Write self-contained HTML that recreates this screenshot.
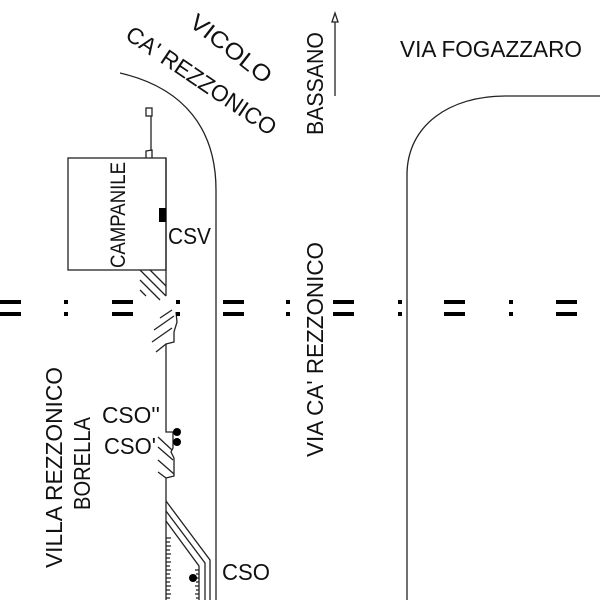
<!DOCTYPE html>
<html><head><meta charset="utf-8"><style>html,body{margin:0;padding:0;background:#fff}svg{display:block}</style></head>
<body>
<svg width="600" height="600" viewBox="0 0 600 600" xmlns="http://www.w3.org/2000/svg" font-family="Liberation Sans, sans-serif" fill="#111">
<g fill="none" stroke="#222" stroke-width="1.3">
<path d="M120,73 C185,88 216,130 216,190 L216,600"/>
<path d="M407,600 L407,175 C407,125 450,96 505,96 L600,96"/>
<rect x="68" y="158" width="98" height="112"/>
<rect x="146" y="108" width="6" height="8"/>
<line x1="151" y1="116" x2="151" y2="150"/>
<path d="M146,158 L146,151 L152,150 L152,158"/>
<path d="M166,158 L166,296"/>
<path d="M176,312 L177,322 L174,332 L174,342 L166,344 L166,432 L173,432 L173,448 L171,452 L174,458 L174,476 L166,478 L166,600"/>
<path d="M140,270 L166,296 M150,270 L166,286 M140,280 L160,300 M140,290 L146,296"/>
<path d="M160,318 L172,310 M154,330 L174,316 M152,342 L172,328 M156,352 L166,344"/>
<path d="M158,437 L172,450 M158,447 L173,460 M158,460 L174,474 M158,472 L166,478"/>
<path d="M166,501 L210,560 L210,600"/>
<path d="M166,511 L205,563 L205,600"/>
<path d="M166,521 L199,566 L199,600"/>
<path d="M166,538 h5 M166,542 h4 M166,546 h5 M166,550 h4 M166,554 h5 M166,558 h4 M166,562 h5 M166,566 h4 M166,570 h5 M166,574 h4 M166,578 h5 M166,582 h4 M166,586 h5 M166,590 h4 M166,594 h5 M166,598 h4"/>
<path d="M199,570 h-4 M199,574 h-3 M199,578 h-4 M199,582 h-3 M199,586 h-4 M199,590 h-3 M199,594 h-4 M199,598 h-3"/>
<line x1="335" y1="96" x2="335" y2="22"/>
<path d="M332,22 L335,13 L338,22 Z"/>
</g>
<rect x="159" y="208" width="7" height="14" fill="#000"/>
<circle cx="177" cy="432" r="4" fill="#000"/>
<circle cx="177" cy="442" r="4" fill="#000"/>
<circle cx="193" cy="578" r="4" fill="#000"/>
<g fill="#000">
<rect x="0" y="300" width="21" height="4"/><rect x="0" y="312" width="21" height="4"/>
<rect x="112" y="300" width="21" height="4"/><rect x="112" y="312" width="21" height="4"/>
<rect x="223" y="300" width="21" height="4"/><rect x="223" y="312" width="21" height="4"/>
<rect x="333" y="300" width="21" height="4"/><rect x="333" y="312" width="21" height="4"/>
<rect x="444" y="300" width="21" height="4"/><rect x="444" y="312" width="21" height="4"/>
<rect x="556" y="300" width="21" height="4"/><rect x="556" y="312" width="21" height="4"/>
<rect x="64" y="300" width="4" height="4"/><rect x="64" y="312" width="4" height="4"/>
<rect x="176" y="300" width="4" height="4"/><rect x="176" y="312" width="4" height="4"/>
<rect x="286" y="300" width="4" height="4"/><rect x="286" y="312" width="4" height="4"/>
<rect x="398" y="300" width="4" height="4"/><rect x="398" y="312" width="4" height="4"/>
<rect x="509" y="300" width="4" height="4"/><rect x="509" y="312" width="4" height="4"/>
</g>
<g font-size="23">
<text x="400" y="57" textLength="182" lengthAdjust="spacingAndGlyphs">VIA FOGAZZARO</text>
<text transform="translate(188,25) rotate(38)" textLength="97" lengthAdjust="spacingAndGlyphs">VICOLO</text>
<text transform="translate(124,38) rotate(34)" textLength="176" lengthAdjust="spacingAndGlyphs">CA' REZZONICO</text>
<text transform="translate(323,135) rotate(-90)" textLength="103" lengthAdjust="spacingAndGlyphs">BASSANO</text>
<text transform="translate(125,268) rotate(-90)" textLength="106" lengthAdjust="spacingAndGlyphs" font-size="21">CAMPANILE</text>
<text x="168" y="244" textLength="43" lengthAdjust="spacingAndGlyphs">CSV</text>
<text transform="translate(323,457) rotate(-90)" textLength="215" lengthAdjust="spacingAndGlyphs">VIA CA' REZZONICO</text>
<text transform="translate(62,568) rotate(-90)" textLength="201" lengthAdjust="spacingAndGlyphs">VILLA  REZZONICO</text>
<text transform="translate(90,510) rotate(-90)" textLength="93" lengthAdjust="spacingAndGlyphs">BORELLA</text>
<text x="102" y="423" textLength="58" lengthAdjust="spacingAndGlyphs">CSO''</text>
<text x="104" y="454" textLength="52" lengthAdjust="spacingAndGlyphs">CSO'</text>
<text x="222" y="580" textLength="48" lengthAdjust="spacingAndGlyphs">CSO</text>
</g>
</svg>
</body></html>
